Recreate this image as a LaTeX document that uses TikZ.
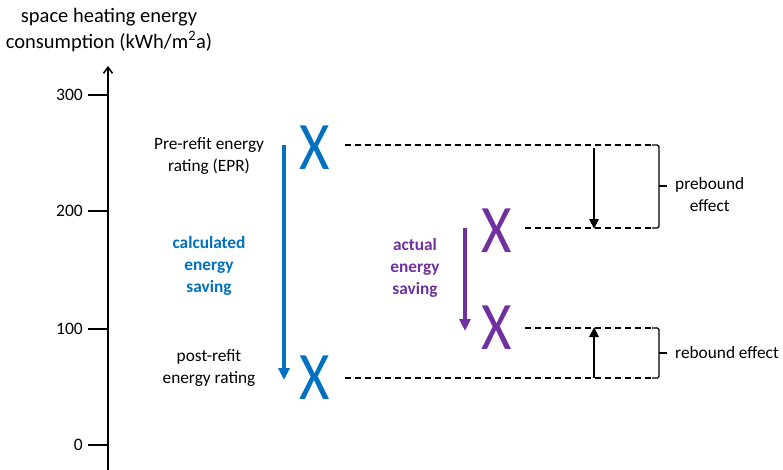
\documentclass[tikz,border=0pt]{standalone}
\usepackage{fontspec}
\usepackage{graphicx}
\setmainfont{Carlito}
\usetikzlibrary{arrows.meta}
\definecolor{cblue}{HTML}{0070C0}
\definecolor{cpurple}{HTML}{7030A0}
\newcommand{\bigX}{\scalebox{0.86}[1]{X}}
\begin{document}
\begin{tikzpicture}[x=1pt,y=-1pt,
  lbl/.style={font=\fontsize{17.3}{22}\selectfont, align=center, inner sep=0pt},
  ticklbl/.style={font=\fontsize{17.5}{18}\selectfont, anchor=east, inner sep=0pt},
  bigx/.style={font=\fontsize{68}{68}\selectfont, inner sep=0pt},
  dashline/.style={dash pattern=on 6pt off 4pt, line width=1.3pt},
  brk/.style={line width=1.3pt, rounded corners=1.5pt},
  bigarrow/.style={line width=3.5pt, -{Triangle[length=12pt,width=11pt]}},
  blkarrow/.style={line width=2.8pt, -{Triangle[length=10pt,width=9pt]}}
]
\useasboundingbox (0,0) rectangle (783,470);
% axis
\coordinate (ab) at (108,470);
\coordinate (at) at (108,66);
\draw[line width=1.6pt, -{Straight Barb[length=6pt,width=9pt]}] (ab) -- (at);
\foreach \y/\v in {95/300,211/200,329/100,445/0}{
  \coordinate (t\v) at (88,\y);
  \draw[line width=1.6pt] (t\v) -- (108,\y);
  \node[ticklbl] (l\v) at (83,\y) {\v};
}
\node[font=\fontsize{20.5}{26}\selectfont, align=center, inner sep=0pt] (title) at (109,30) {space heating energy\\consumption (kWh/m\textsuperscript{2}a)};
% X marks
\node[bigx, text=cblue] (xa) at (315,148) {\bigX};
\node[bigx, text=cblue] (xb) at (315,378) {\bigX};
\node[bigx, text=cpurple] (xc) at (497,231) {\bigX};
\node[bigx, text=cpurple] (xd) at (497,328) {\bigX};
% labels
\node[lbl] (pre) at (209,156) {Pre-refit energy\\rating (EPR)};
\node[lbl] (post) at (209,368) {post-refit\\energy rating};
\node[lbl, font=\fontsize{17.3}{22}\selectfont\bfseries, text=cblue] (calc) at (209,266) {calculated\\energy\\saving};
\node[lbl, font=\fontsize{17.3}{22}\selectfont\bfseries, text=cpurple] (act) at (415,268) {actual\\energy\\saving};
\node[lbl, anchor=west] (preb) at (675,195) {prebound\\effect};
\node[lbl, anchor=west] (reb) at (675,353) {rebound effect};
% big arrows
\coordinate (ba1) at (284,145);
\coordinate (ba2) at (284,380);
\draw[bigarrow, cblue] (ba1) -- (ba2);
\coordinate (pa1) at (465,228);
\coordinate (pa2) at (465,331);
\draw[bigarrow, cpurple] (pa1) -- (pa2);
% dashed lines
\coordinate (d1a) at (345,145); \coordinate (d1b) at (652,145);
\coordinate (d2a) at (525,228); \coordinate (d2b) at (652,228);
\coordinate (d3a) at (525,328); \coordinate (d3b) at (652,328);
\coordinate (d4a) at (345,378); \coordinate (d4b) at (652,378);
\draw[dashline] (d1a) -- (d1b);
\draw[dashline] (d2a) -- (d2b);
\draw[dashline] (d3a) -- (d3b);
\draw[dashline] (d4a) -- (d4b);
% brackets
\draw[brk] (d1b) -- (659,145) -- (659,228) -- (d2b);
\draw[brk] (659,186) -- (667,186);
\draw[brk] (d3b) -- (659,328) -- (659,378) -- (d4b);
\draw[brk] (659,353) -- (667,353);
% black arrows
\coordinate (k1) at (594,148); \coordinate (k2) at (594,229);
\draw[blkarrow] (k1) -- (k2);
\coordinate (k3) at (594,378); \coordinate (k4) at (594,327);
\draw[blkarrow] (k3) -- (k4);
\end{tikzpicture}
\end{document}
